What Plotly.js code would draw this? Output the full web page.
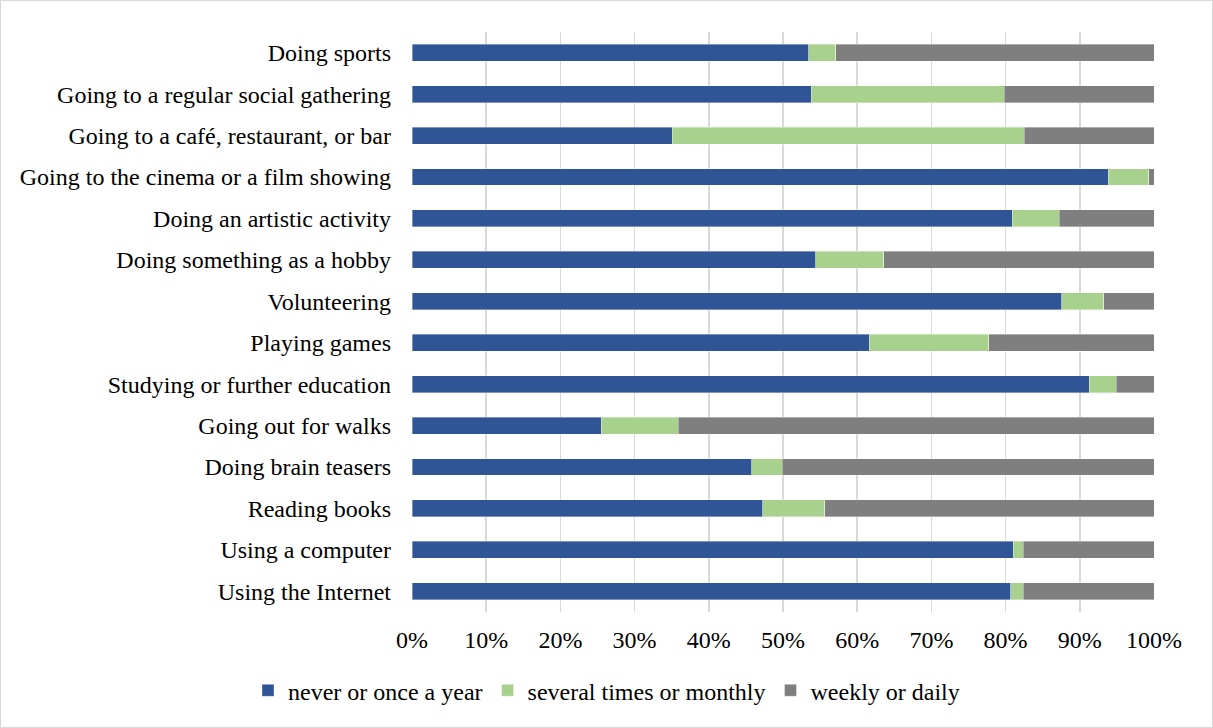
<!DOCTYPE html>
<html>
<head>
<meta charset="utf-8">
<script src="https://cdn.plot.ly/plotly-3.0.1.min.js"></script>
<style>
html,body{margin:0;padding:0;background:#fff;}
#chart{width:1213px;height:728px;box-sizing:border-box;border:1px solid #d9d9d9;}
</style>
</head>
<body>
<div id="chart"></div>
<script>
const categories = [
  "Doing sports",
  "Going to a regular social gathering",
  "Going to a café, restaurant, or bar",
  "Going to the cinema or a film showing",
  "Doing an artistic activity",
  "Doing something as a hobby",
  "Volunteering",
  "Playing games",
  "Studying or further education",
  "Going out for walks",
  "Doing brain teasers",
  "Reading books",
  "Using a computer",
  "Using the Internet"
];
const neverOrOnce = [53.5, 53.8, 35.1, 93.8, 80.9, 54.4, 87.6, 61.6, 91.3, 25.5, 45.8, 47.3, 81.0, 80.7];
const severalMonthly = [3.6, 26.0, 47.4, 5.5, 6.3, 9.2, 5.6, 16.1, 3.6, 10.4, 4.1, 8.3, 1.4, 1.7];
const weeklyDaily = [42.9, 20.2, 17.5, 0.7, 12.8, 36.4, 6.8, 22.3, 5.1, 64.1, 50.1, 44.4, 17.6, 17.6];
const seriesNames = ["never or once a year", "several times or monthly", "weekly or daily"];
const tickVals = [0,10,20,30,40,50,60,70,80,90,100];
const tickLabels = ["0%","10%","20%","30%","40%","50%","60%","70%","80%","90%","100%"];

const colors = ["#2f5597", "#a9d18e", "#7f7f7f"];
const values = [neverOrOnce, severalMonthly, weeklyDaily];
const traces = values.map((v, i) => ({
  type: "bar",
  orientation: "h",
  name: seriesNames[i],
  y: categories,
  x: v,
  width: 0.41,
  marker: {color: colors[i], line: {color: "rgba(255,255,255,0.6)", width: 0.6}},
  hoverinfo: "x+y+name"
}));

const font = {family: "Liberation Serif, Times New Roman, serif", size: 24, color: "#000"};
const layout = {
  barmode: "stack",
  width: 1211,
  height: 726,
  margin: {l: 410.7, r: 57.7, t: 30.8, b: 114.8, pad: 0},
  paper_bgcolor: "#fff",
  plot_bgcolor: "#fff",
  font: font,
  showlegend: true,
  legend: {
    orientation: "h",
    xref: "container", yref: "container",
    x: 0.5, xanchor: "center",
    y: 0.05, yanchor: "middle",
    font: font,
    traceorder: "normal",
    itemwidth: 30
  },
  xaxis: {
    range: [0, 100],
    tickvals: tickVals,
    ticktext: tickLabels,
    showgrid: true,
    gridcolor: "#d9d9d9",
    gridwidth: 1.5,
    zeroline: false,
    showline: false,
    ticks: "outside",
    ticklen: 6,
    tickcolor: "rgba(0,0,0,0)",
    tickfont: font,
    fixedrange: true
  },
  yaxis: {
    type: "category",
    autorange: "reversed",
    showgrid: false,
    zeroline: false,
    showline: false,
    ticks: "",
    ticklabelstandoff: 20,
    tickfont: font,
    fixedrange: true
  }
};
Plotly.newPlot("chart", traces, layout, {displayModeBar: false, staticPlot: true});
</script>
</body>
</html>
